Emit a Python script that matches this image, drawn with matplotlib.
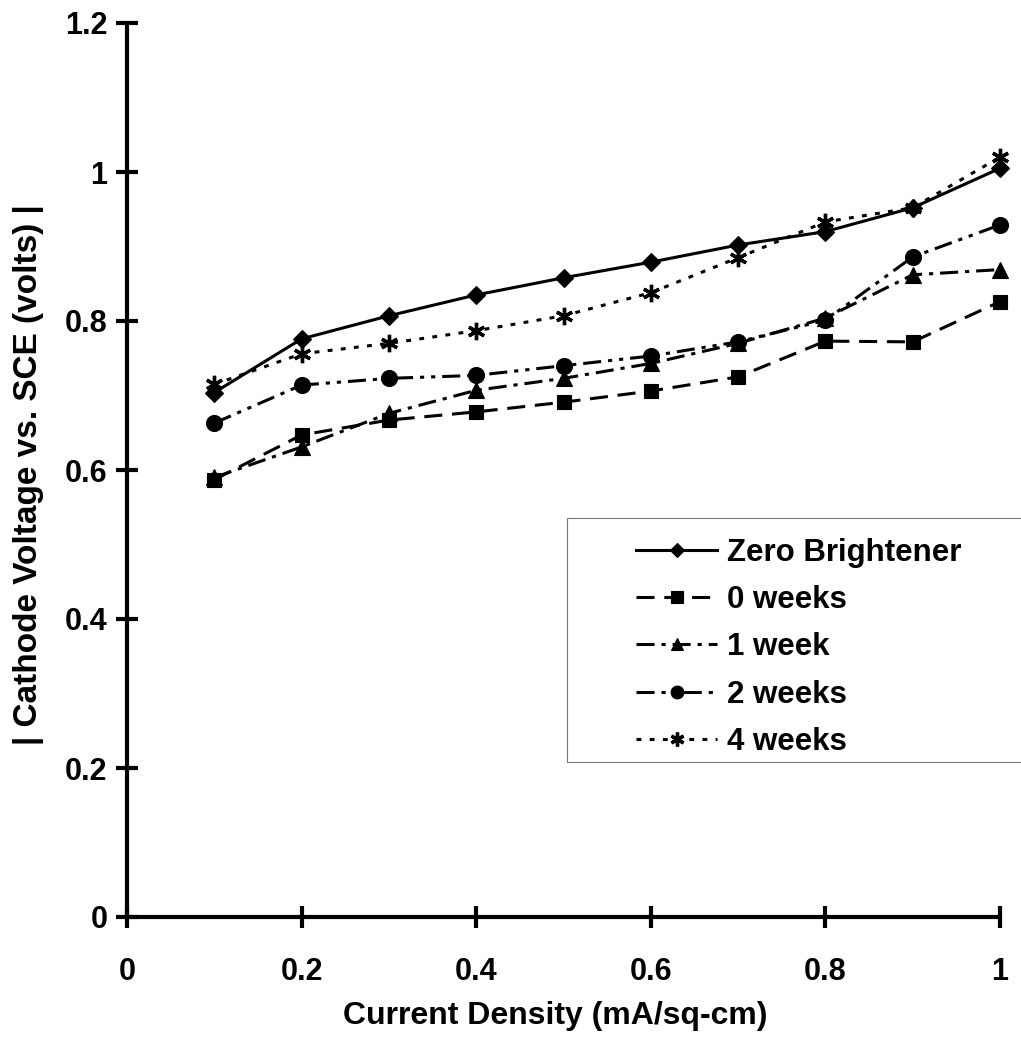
import numpy as np
import matplotlib
matplotlib.use("Agg")
import matplotlib.pyplot as plt
from matplotlib.patches import Rectangle

plt.rcParams['font.family'] = ['Liberation Sans', 'DejaVu Sans']
plt.rcParams['font.weight'] = 'bold'
plt.rcParams['lines.scale_dashes'] = False

# current density (mA/sq-cm)
current = [0.1, 0.2, 0.3, 0.4, 0.5, 0.6, 0.7, 0.8, 0.9, 1.0]

# |cathode voltage| vs SCE (volts)
zero_brightener = [0.704, 0.776, 0.807, 0.835, 0.858, 0.879, 0.902, 0.920, 0.952, 1.005]
weeks_0 = [0.587, 0.647, 0.667, 0.678, 0.691, 0.706, 0.725, 0.773, 0.772, 0.826]
week_1 = [0.590, 0.631, 0.676, 0.707, 0.723, 0.743, 0.770, 0.804, 0.862, 0.869]
weeks_2 = [0.663, 0.714, 0.723, 0.727, 0.740, 0.753, 0.772, 0.801, 0.886, 0.929]
weeks_4 = [0.715, 0.756, 0.770, 0.787, 0.807, 0.838, 0.885, 0.933, 0.952, 1.020]

xticks = [0, 0.2, 0.4, 0.6, 0.8, 1.0]
xticklabels = ['0', '0.2', '0.4', '0.6', '0.8', '1']
yticks = [0, 0.2, 0.4, 0.6, 0.8, 1.0, 1.2]
yticklabels = ['0', '0.2', '0.4', '0.6', '0.8', '1', '1.2']

W, H = 1021, 1047
fig = plt.figure(figsize=(W / 100, H / 100), dpi=100)
ax = fig.add_axes([127 / W, 130 / H, 873 / W, 894 / H])

lw = 2.2
common = dict(color='black', lw=lw, clip_on=False, markeredgewidth=0.8,
              markeredgecolor='black', markerfacecolor='black')

ax.plot(current, zero_brightener, marker='D', ms=9.5, ls='-',
        label='Zero Brightener', **common)
ax.plot(current, weeks_0, marker='s', ms=10.5, ls=(0, (13, 7)),
        label='0 weeks', **common)
ax.plot(current, week_1, marker='^', ms=11.5, ls=(0, (13, 5, 3, 5)),
        label='1 week', **common)
ax.plot(current, weeks_2, marker='o', ms=11.5, ls=(0, (13, 5, 3, 5, 3, 5)),
        label='2 weeks', **common)
ax.plot(current, weeks_4, marker=(6, 2, 0), ms=12.5, ls=(0, (3.5, 6)),
        label='4 weeks', **dict(common, markeredgewidth=2.4))

ax.set_xlim(0, 1)
ax.set_ylim(0, 1.2)

for s in ['top', 'right']:
    ax.spines[s].set_visible(False)
for s in ['left', 'bottom']:
    ax.spines[s].set_linewidth(3)
    ax.spines[s].set_capstyle('round')

ax.set_xticks(xticks)
ax.set_xticklabels(xticklabels)
ax.set_yticks(yticks)
ax.set_yticklabels(yticklabels)
ax.tick_params(axis='both', direction='inout', length=16, width=3,
               labelsize=22)
ax.tick_params(axis='x', pad=21)
ax.tick_params(axis='y', pad=6)

ax.set_xlabel('Current Density (mA/sq-cm)', fontsize=23, fontweight='bold',
              va='top')
ax.xaxis.set_label_coords(0.491, -0.094)
ax.set_ylabel('| Cathode Voltage vs. SCE (volts) |', fontsize=24,
              fontweight='bold')
ax.yaxis.set_label_coords(-0.095, 0.495)

# legend box
fig.patches.append(Rectangle((567 / W, (H - 762) / H), (W + 10 - 567) / W,
                             244 / H, transform=fig.transFigure,
                             facecolor='none', edgecolor='#777777', lw=0.8))
ax.legend(loc='upper left', bbox_to_anchor=(636 / W, (H - 538) / H),
          bbox_transform=fig.transFigure, frameon=False, borderpad=0,
          borderaxespad=0, handlelength=2.6, handletextpad=0.3,
          labelspacing=0.55, markerscale=0.8,
          prop={'weight': 'bold', 'size': 22.5})

fig.savefig('out.png', dpi=100)
